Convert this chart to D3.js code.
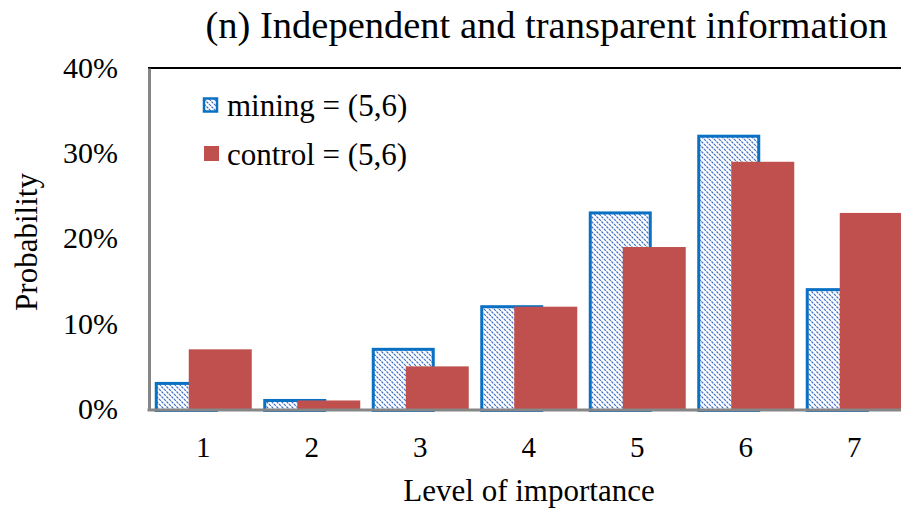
<!DOCTYPE html>
<html><head><meta charset="utf-8">
<script src="https://cdn.jsdelivr.net/npm/d3@7"></script>
<style>body{margin:0;background:#fff;}</style>
</head><body><svg id="c" width="901" height="514"></svg>
<script>
const categories = ["1","2","3","4","5","6","7"];
const mining = [0.03,0.01,0.07,0.12,0.23,0.32,0.14];
const control = [0.07,0.01,0.05,0.12,0.19,0.29,0.23];
const yTicks = [0,0.1,0.2,0.3,0.4];
const seriesNames = ["mining = (5,6)","control = (5,6)"];
const title = "(n) Independent and transparent information";

(function(){
const FF = '"Liberation Serif","Times New Roman",serif';
const svg = d3.select("#c");
const defs = svg.append("defs");
const pat = defs.append("pattern").attr("id","hatch").attr("patternUnits","userSpaceOnUse")
  .attr("width",5).attr("height",5);
pat.append("rect").attr("width",5).attr("height",5).attr("fill","#fff");
pat.append("path").attr("d","M-1,-1 L6,6 M-1,4 L1,6 M4,-1 L6,1").attr("stroke","#3f6fc4").attr("stroke-width",1.2).attr("stroke-dasharray","2.6,0.9");

const pL=149, pR=149+7*108.5, pT=68, pB=409;
const x = d3.scaleBand().domain(categories).range([pL,pR]);
const y = d3.scaleLinear().domain([0,0.4]).range([pB,pT]);
const bw = 63, off = 34;

svg.append("line").attr("x1",pL-1).attr("x2",901).attr("y1",pT).attr("y2",pT).attr("stroke","#000").attr("stroke-width",2);

const g = svg.append("g");
categories.forEach((c,i)=>{
  const cx = x(c) + x.bandwidth()/2;
  const x0 = cx - (bw+off)/2;
  g.append("rect").attr("x",x0+1.5).attr("y",y(mining[i])).attr("width",bw-3).attr("height",y(0)-y(mining[i])+1.5)
    .attr("fill","url(#hatch)").attr("stroke","#0a70c4").attr("stroke-width",3);
  g.append("rect").attr("x",x0+off).attr("y",y(control[i])).attr("width",bw).attr("height",y(0)-y(control[i]))
    .attr("fill","#c0504d");
});

const ya = svg.append("g").attr("transform",`translate(${pL},0)`)
  .call(d3.axisLeft(y).tickValues(yTicks).tickFormat(d3.format(".0%")).tickSize(0).tickPadding(31));
ya.attr("font-family",FF).attr("font-size",30);
ya.select(".domain").attr("stroke","#868686").attr("stroke-width",3);
ya.selectAll("text").attr("fill","#000").attr("dy","0.31em");

svg.append("line").attr("x1",pL-1.5).attr("x2",901).attr("y1",pB+1).attr("y2",pB+1).attr("stroke","#868686").attr("stroke-width",3);

const xa = svg.append("g").attr("transform",`translate(0,${pB})`)
  .call(d3.axisBottom(x).tickSize(0).tickPadding(27));
xa.attr("font-family",FF).attr("font-size",29);
xa.select(".domain").remove();
xa.selectAll("text").attr("fill","#000").attr("dy","0.71em");

const T = (s)=>svg.append("text").attr("font-family",FF).attr("fill","#000").text(s);
T(title).attr("x",546.5).attr("y",38).attr("text-anchor","middle").attr("font-size",38.5);
T("Level of importance").attr("x",529).attr("y",501).attr("text-anchor","middle").attr("font-size",31);
T("Probability").attr("transform","translate(37,242) rotate(-90)").attr("text-anchor","middle").attr("font-size",31);

svg.append("rect").attr("x",204).attr("y",98.5).attr("width",13).attr("height",13).attr("fill","url(#hatch)").attr("stroke","#0a70c4").attr("stroke-width",2.5);
T(seriesNames[0]).attr("x",227).attr("y",116).attr("font-size",31);
svg.append("rect").attr("x",204).attr("y",146).attr("width",15).attr("height",15).attr("fill","#c0504d");
T(seriesNames[1]).attr("x",227).attr("y",165).attr("font-size",31);
})();
</script></body></html>
